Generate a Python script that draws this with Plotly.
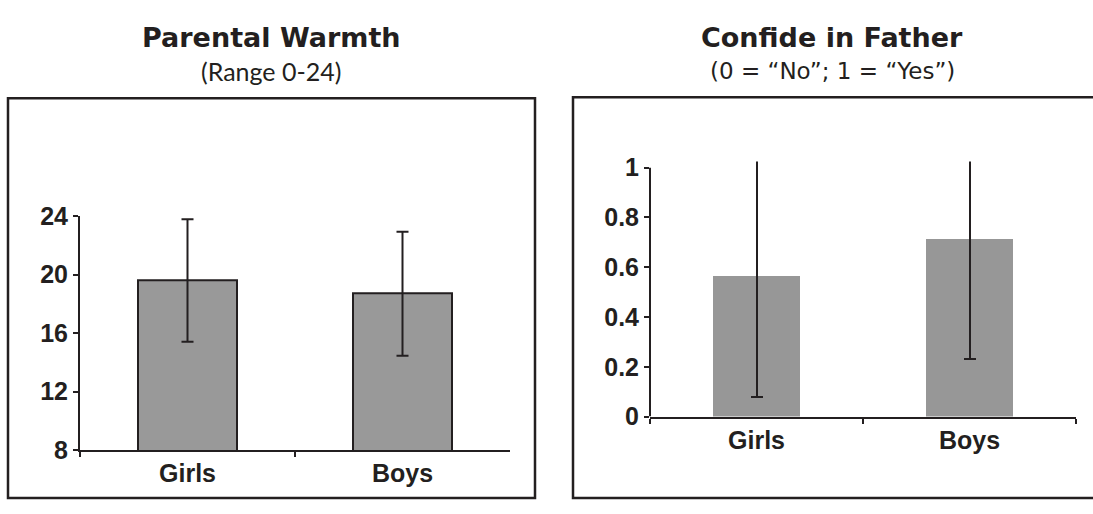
import plotly.graph_objects as go

# Group labels
groups = ["Girls", "Boys"]

# Parental warmth (scale 0-24): means and SDs
warmth_mean = [19.6, 18.7]
warmth_sd = [4.2, 4.25]

# Confide in father (0 = No, 1 = Yes): proportions and SDs
confide_mean = [0.565, 0.716]
confide_sd = [0.486, 0.486]

warmth_ticks = [8, 12, 16, 20, 24]
confide_ticks = [0, 0.2, 0.4, 0.6, 0.8, 1]
confide_ticktext = ["0", "0.2", "0.4", "0.6", "0.8", "1"]

W, H = 1093, 514
INK = "#231f20"
BAR = "#999999"
TICK_FONT = dict(family="Arial, Liberation Sans, sans-serif", size=25,
                 color=INK, weight="bold")


def px_x(v):
    return v / W


def px_y(v):
    return 1 - v / H


fig = go.Figure()

fig.add_trace(go.Bar(
    x=groups, y=warmth_mean, width=0.46,
    marker=dict(color=BAR, line=dict(color=INK, width=2)),
    error_y=dict(type="data", array=warmth_sd, visible=True,
                 color=INK, thickness=2, width=6),
    xaxis="x", yaxis="y", showlegend=False,
))

fig.add_trace(go.Bar(
    x=groups, y=confide_mean, width=0.41,
    marker=dict(color="#979797", line=dict(width=0)),
    error_y=dict(type="data", array=confide_sd, visible=True,
                 color=INK, thickness=2, width=6),
    xaxis="x2", yaxis="y2", showlegend=False,
))

axis_common = dict(
    showgrid=False, zeroline=False, showline=True,
    linecolor=INK, linewidth=2, ticks="outside", ticklen=5,
    tickwidth=2, tickcolor=INK, tickfont=TICK_FONT, fixedrange=True,
)

fig.update_layout(
    width=W, height=H, autosize=False,
    margin=dict(l=0, r=0, t=0, b=0, pad=0),
    paper_bgcolor="white", plot_bgcolor="white",
    bargap=0,
    xaxis=dict(domain=[px_x(80), px_x(510)], anchor="y",
               tickson="boundaries", **axis_common),
    yaxis=dict(domain=[px_y(461), px_y(214)], anchor="x",
               range=[8, 24], tickvals=warmth_ticks, **axis_common),
    xaxis2=dict(domain=[px_x(650), px_x(1076)], anchor="y2",
                tickson="boundaries", **axis_common),
    yaxis2=dict(domain=[px_y(425.7), px_y(156)], anchor="x2",
                range=[0, 1.025], tickvals=confide_ticks,
                ticktext=confide_ticktext,
                **{**axis_common, "showline": False}),
)

# right-hand y axis line stops at 1
fig.add_shape(type="line", xref="x2 domain", yref="y2",
              x0=0, x1=0, y0=0, y1=1, line=dict(color=INK, width=2))

# frames around each panel
fig.add_shape(type="rect", xref="paper", yref="paper",
              x0=px_x(8), x1=px_x(535), y0=px_y(512), y1=px_y(89),
              line=dict(color=INK, width=2.5), layer="below")
fig.add_shape(type="rect", xref="paper", yref="paper",
              x0=px_x(573), x1=px_x(1100), y0=px_y(512), y1=px_y(88),
              line=dict(color=INK, width=2.5), layer="below")

HEAD_FONT = dict(family="DejaVu Sans, sans-serif", size=27, color=INK,
                 weight="bold")
titles = [
    (271, "Parental Warmth", "(Range 0-24)",
     dict(family="Lato, sans-serif", size=25, color=INK)),
    (832, "Confide in Father", "(0 = “No”; 1 = “Yes”)",
     dict(family="DejaVu Sans, sans-serif", size=23, color=INK)),
]
for cx, head, sub, sub_font in titles:
    fig.add_annotation(x=px_x(cx), y=px_y(25), xref="paper", yref="paper",
                       text=head, showarrow=False, xanchor="center",
                       yanchor="middle", font=HEAD_FONT)
    fig.add_annotation(x=px_x(cx), y=px_y(60), xref="paper", yref="paper",
                       text=sub, showarrow=False, xanchor="center",
                       yanchor="middle", font=sub_font)

fig.write_html("out.html")
